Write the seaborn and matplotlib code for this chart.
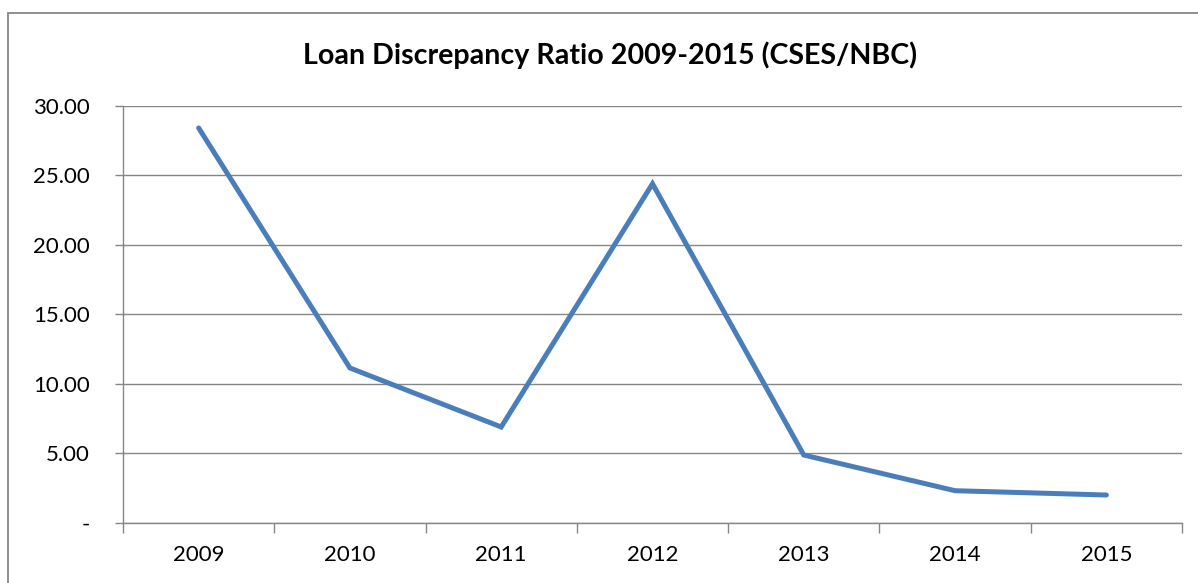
import matplotlib
matplotlib.use("Agg")
import matplotlib.pyplot as plt
from matplotlib.patches import Rectangle
from matplotlib.ticker import FixedLocator, FuncFormatter
import seaborn as sns
import pandas as pd

# Loan discrepancy ratio by year
years = ["2009", "2010", "2011", "2012", "2013", "2014", "2015"]
ratios = [28.42, 11.13, 6.88, 24.40, 4.86, 2.29, 1.98]
y_ticks = [0, 5, 10, 15, 20, 25, 30]
title = "Loan Discrepancy Ratio 2009-2015 (CSES/NBC)"

sns.set_theme(style="white")
plt.rcParams["font.family"] = ["Lato", "DejaVu Sans"]

grid_color = "#868686"
line_color = "#4A7EBB"

df = pd.DataFrame({"year": years, "ratio": ratios})

fig = plt.figure(figsize=(11.98, 5.83), dpi=100)
ax = fig.add_axes([123 / 1198, 1 - 522.5 / 583, (1182 - 123) / 1198, (522.5 - 106) / 583])

sns.lineplot(data=df, x="year", y="ratio", ax=ax, color=line_color,
             linewidth=3.6, solid_capstyle="round", solid_joinstyle="miter",
             sort=False)

ax.set_xlim(-0.5, len(years) - 0.5)
ax.set_ylim(0, 30)
ax.set_xlabel("")
ax.set_ylabel("")

# y axis: fixed ticks, "-" for zero
ax.yaxis.set_major_locator(FixedLocator(y_ticks))
ax.yaxis.set_major_formatter(FuncFormatter(lambda v, _: "-" if v == 0 else f"{v:.2f}"))
ax.tick_params(axis="y", which="major", direction="out", length=6, width=1,
               color=grid_color, labelsize=16, labelcolor="black", pad=18, left=True)

# x axis: labels centred on categories, tick marks at category boundaries
ax.set_xticks(range(len(years)))
ax.set_xticklabels(years)
ax.set_xticks([i - 0.5 for i in range(len(years) + 1)], minor=True)
ax.tick_params(axis="x", which="major", length=0, labelsize=16, labelcolor="black", pad=16)
ax.tick_params(axis="x", which="minor", direction="out", length=7, width=1,
               color=grid_color, bottom=True)

ax.yaxis.grid(True, color=grid_color, linewidth=1)
ax.xaxis.grid(False)
ax.set_axisbelow(True)

for side in ["top", "right"]:
    ax.spines[side].set_visible(False)
for side in ["left", "bottom"]:
    ax.spines[side].set_visible(True)
    ax.spines[side].set_color(grid_color)
    ax.spines[side].set_linewidth(1)

fig.text(0.509, 1 - 55 / 583, title, ha="center", va="center",
         fontsize=20.6, fontweight="bold", color="black")

# chart frame
fig.patches.append(Rectangle((8 / 1198, -0.05), 1.2, 1 - 13 / 583 + 0.05,
                             transform=fig.transFigure, fill=False,
                             edgecolor=grid_color, linewidth=1.3))

fig.savefig("out.png", dpi=100)
